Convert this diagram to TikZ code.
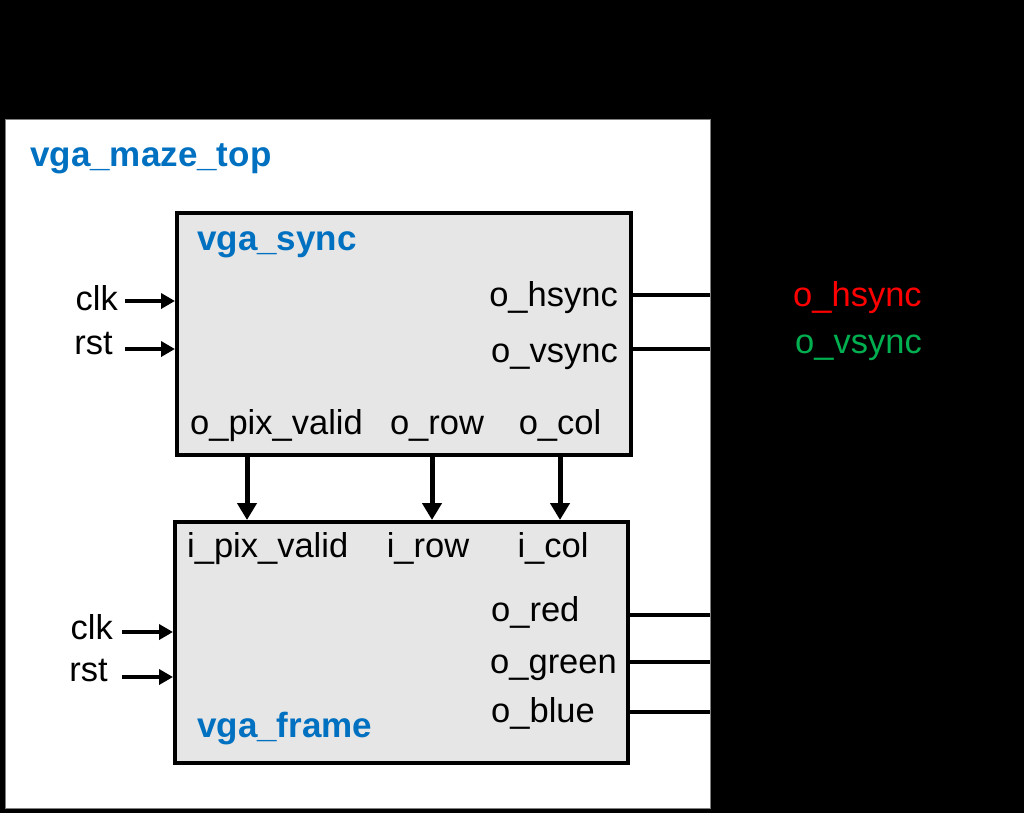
\documentclass[tikz,border=0pt]{standalone}
\usepackage{fontspec}
\setmainfont{Liberation Sans}
\usetikzlibrary{arrows.meta, positioning}
\definecolor{modblue}{RGB}{0,112,192}
\definecolor{boxgray}{RGB}{230,230,230}
\definecolor{sigred}{RGB}{255,0,0}
\definecolor{siggreen}{RGB}{0,176,80}

\begin{document}
\begin{tikzpicture}[
    x=1pt, y=-1pt,
    font=\fontsize{34.5}{40}\selectfont,
    module/.style={rectangle, draw=black, line width=4pt, fill=boxgray, inner sep=0pt},
    title/.style={font=\fontsize{35}{40}\selectfont\bfseries, text=modblue, anchor=base west, inner sep=0pt},
    port/.style={anchor=base west, inner sep=0pt},
    wire/.style={line width=3.5pt},
    arrow/.style={-{Triangle[length=17pt,width=19pt]}, line width=5pt},
    inarrow/.style={-{Triangle[length=14pt,width=15pt]}, line width=4pt}
]

% page and background
\fill[black] (0,0) rectangle (1024,813);
\useasboundingbox (0,0) rectangle (1024,813);
\node[draw=gray, fill=white, minimum width=705pt, minimum height=689pt, anchor=north west, inner sep=0pt] (top) at (5,119) {};
\node[title] (toplbl) at (30,167) {vga\_maze\_top};

% modules
\node[module, minimum width=454pt, minimum height=242pt] (sync) at (404,334) {};
\node[module, minimum width=453pt, minimum height=241pt] (frame) at (401.5,642.5) {};
\node[title] (synclbl) at (197,250) {vga\_sync};
\node[title] (framelbl) at (197,737) {vga\_frame};

% vga_sync ports
\node[port, anchor=base east] (ohs) at (618,306) {o\_hsync};
\node[port, anchor=base east] (ovs) at (618,362) {o\_vsync};
\node[port] (opv) at (190,434) {o\_pix\_valid};
\node[port, anchor=base] (orow) at (437,434) {o\_row};
\node[port, anchor=base] (ocol) at (560,434) {o\_col};

% vga_frame ports
\node[port] (ipv) at (187,557) {i\_pix\_valid};
\node[port, anchor=base] (irow) at (428,557) {i\_row};
\node[port, anchor=base] (icol) at (553,557) {i\_col};
\node[port] (ored) at (491,621) {o\_red};
\node[port] (ogreen) at (490,673) {o\_green};
\node[port] (oblue) at (491,722) {o\_blue};

% inputs
\node[port, anchor=base east] (clka) at (118,310) {clk};
\node[port, anchor=base east] (rsta) at (113,354) {rst};
\node[port, anchor=base east] (clkb) at (113,639) {clk};
\node[port, anchor=base east] (rstb) at (108,681) {rst};
\coordinate (clkain) at (125,301);
\coordinate (rstain) at (125,349);
\coordinate (clkbin) at (122,632);
\coordinate (rstbin) at (122,677);
\draw[inarrow] (clkain) -- (clkain -| sync.west);
\draw[inarrow] (rstain) -- (rstain -| sync.west);
\draw[inarrow] (clkbin) -- (clkbin -| frame.west);
\draw[inarrow] (rstbin) -- (rstbin -| frame.west);

% sync -> frame
\coordinate (pvx) at (247,0);
\coordinate (rowx) at (432,0);
\coordinate (colx) at (560,0);
\draw[arrow] (sync.south -| pvx) -- (frame.north -| pvx);
\draw[arrow] (sync.south -| rowx) -- (frame.north -| rowx);
\draw[arrow] (sync.south -| colx) -- (frame.north -| colx);

% outputs
\coordinate (hsout) at (710,295);
\coordinate (vsout) at (710,349);
\coordinate (redout) at (710,615);
\coordinate (greenout) at (710,662);
\coordinate (blueout) at (710,712);
\draw[wire] (hsout -| sync.east) -- (hsout);
\draw[wire] (vsout -| sync.east) -- (vsout);
\draw[wire] (redout -| frame.east) -- (redout);
\draw[wire] (greenout -| frame.east) -- (greenout);
\draw[wire] (blueout -| frame.east) -- (blueout);

\node[port, text=sigred] (hslbl) at (793,306) {o\_hsync};
\node[port, text=siggreen] (vslbl) at (795,353) {o\_vsync};

\end{tikzpicture}
\end{document}
